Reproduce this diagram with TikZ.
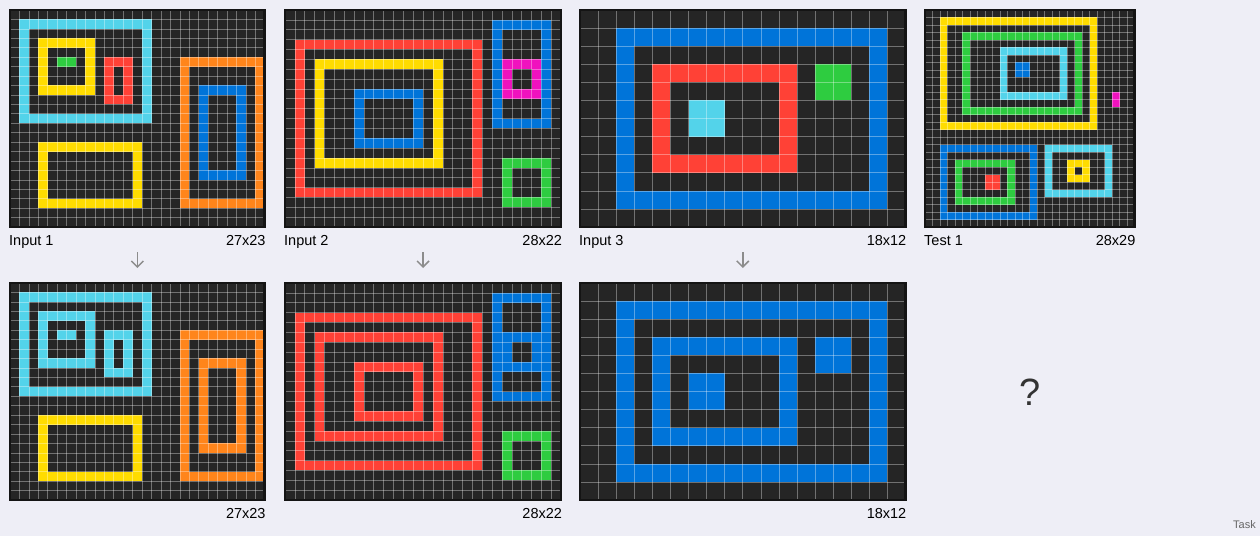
\documentclass[tikz,border=0pt]{standalone}
\usepackage{fontspec}
\setmainfont{Liberation Sans}
\usepackage{tikz}
\usetikzlibrary{arrows.meta,positioning,calc}
\definecolor{pagebg}{HTML}{EEEEF6}
\definecolor{cellbg}{HTML}{252525}
\definecolor{framec}{HTML}{141414}
\definecolor{arcblue}{HTML}{0074D9}
\definecolor{arcred}{HTML}{FF4136}
\definecolor{arcgreen}{HTML}{2ECC40}
\definecolor{arcyellow}{HTML}{FFDC00}
\definecolor{arccyan}{HTML}{53D3EA}
\definecolor{arcmagenta}{HTML}{F012BE}
\definecolor{arcorange}{HTML}{FF851B}
\definecolor{arrowgray}{HTML}{8C8C8C}
\definecolor{textgray}{HTML}{333333}

% hollow box and solid block, in cell units
\newcommand{\arcring}[5]{\fill[#1] (#2,#3) rectangle (#4+1,#5+1); \fill[cellbg] (#2+1,#3+1) rectangle (#4,#5);}
\newcommand{\arcblk}[5]{\fill[#1] (#2,#3) rectangle (#4+1,#5+1);}
% name, x, y, cell size, cols, rows, content
\newcommand{\arcpanel}[7]{%
  \begin{scope}[shift={(#2,#3)}, x=#4pt, y=-#4pt]
    \fill[cellbg] (0,0) rectangle (#5,#6);
    #7
    \pgfmathtruncatemacro{\lastc}{#5-1}
    \pgfmathtruncatemacro{\lastr}{#6-1}
    \foreach \i in {1,...,\lastc} \draw[gridline] (\i,0) -- (\i,#6);
    \foreach \j in {1,...,\lastr} \draw[gridline] (0,\j) -- (#5,\j);
    \draw[panelframe] (0,0) rectangle (#5,#6);
    \coordinate (#1-n) at (#5/2,0);
    \coordinate (#1-s) at (#5/2,#6);
    \coordinate (#1-sw) at (0,#6);
    \coordinate (#1-se) at (#5,#6);
  \end{scope}}

\begin{document}
\begin{tikzpicture}[x=1pt, y=-1pt,
  gridline/.style={white, opacity=0.35, line width=0.6pt},
  panelframe/.style={draw=framec, line width=2.6pt},
  lbl/.style={font=\fontsize{14.5}{17}\selectfont, inner sep=0pt},
  arr/.style={-{Straight Barb[length=6pt,width=12pt]}, draw=arrowgray, line width=1.5pt}
]
\fill[pagebg] (0,0) rectangle (1260,536);
\useasboundingbox (0,0) rectangle (1260,536);

% pair 1
\arcpanel{in1}{10}{10}{9.4348}{27}{23}{%
  \arcring{arccyan}{1}{1}{14}{11}
  \arcring{arcyellow}{3}{3}{8}{8}
  \arcblk{arcgreen}{5}{5}{6}{5}
  \arcring{arcred}{10}{5}{12}{9}
  \arcring{arcyellow}{3}{14}{13}{20}
  \arcring{arcorange}{18}{5}{26}{20}
  \arcring{arcblue}{20}{8}{24}{17}}
\arcpanel{out1}{10}{283}{9.4348}{27}{23}{%
  \arcring{arccyan}{1}{1}{14}{11}
  \arcring{arccyan}{3}{3}{8}{8}
  \arcblk{arccyan}{5}{5}{6}{5}
  \arcring{arccyan}{10}{5}{12}{9}
  \arcring{arcyellow}{3}{14}{13}{20}
  \arcring{arcorange}{18}{5}{26}{20}
  \arcring{arcorange}{20}{8}{24}{17}}

% pair 2
\arcpanel{in2}{285}{10}{9.8636}{28}{22}{%
  \arcring{arcred}{1}{3}{19}{18}
  \arcring{arcyellow}{3}{5}{15}{15}
  \arcring{arcblue}{7}{8}{13}{13}
  \arcring{arcblue}{21}{1}{26}{11}
  \arcring{arcmagenta}{22}{5}{25}{8}
  \arcring{arcgreen}{22}{15}{26}{19}}
\arcpanel{out2}{285}{283}{9.8636}{28}{22}{%
  \arcring{arcred}{1}{3}{19}{18}
  \arcring{arcred}{3}{5}{15}{15}
  \arcring{arcred}{7}{8}{13}{13}
  \arcring{arcblue}{21}{1}{26}{11}
  \arcring{arcblue}{22}{5}{25}{8}
  \arcring{arcgreen}{22}{15}{26}{19}}

% pair 3
\arcpanel{in3}{580}{10}{18.0833}{18}{12}{%
  \arcring{arcblue}{2}{1}{16}{10}
  \arcring{arcred}{4}{3}{11}{8}
  \arcblk{arccyan}{6}{5}{7}{6}
  \arcblk{arcgreen}{13}{3}{14}{4}}
\arcpanel{out3}{580}{283}{18.0833}{18}{12}{%
  \arcring{arcblue}{2}{1}{16}{10}
  \arcring{arcblue}{4}{3}{11}{8}
  \arcblk{arcblue}{6}{5}{7}{6}
  \arcblk{arcblue}{13}{3}{14}{4}}

% test
\arcpanel{test1}{925}{10}{7.4828}{28}{29}{%
  \arcring{arcyellow}{2}{1}{22}{15}
  \arcring{arcgreen}{5}{3}{20}{13}
  \arcring{arccyan}{10}{5}{18}{11}
  \arcblk{arcblue}{12}{7}{13}{8}
  \arcblk{arcmagenta}{25}{11}{25}{12}
  \arcring{arcblue}{2}{18}{14}{27}
  \arcring{arcgreen}{4}{20}{11}{25}
  \arcblk{arcred}{8}{22}{9}{23}
  \arcring{arccyan}{16}{18}{24}{24}
  \arcring{arcyellow}{19}{20}{21}{22}}

% labels
\node[lbl, anchor=base west] (in1name) at ([xshift=-1pt,yshift=-18.5pt]in1-sw) {Input 1};
\node[lbl, anchor=base east] (in1size) at ([xshift=1pt,yshift=-18.5pt]in1-se) {27x23};
\node[lbl, anchor=base east] (out1size) at ([xshift=1pt,yshift=-18.5pt]out1-se) {27x23};
\node[lbl, anchor=base west] (in2name) at ([xshift=-1pt,yshift=-18.5pt]in2-sw) {Input 2};
\node[lbl, anchor=base east] (in2size) at ([xshift=1pt,yshift=-18.5pt]in2-se) {28x22};
\node[lbl, anchor=base east] (out2size) at ([xshift=1pt,yshift=-18.5pt]out2-se) {28x22};
\node[lbl, anchor=base west] (in3name) at ([xshift=-1pt,yshift=-18.5pt]in3-sw) {Input 3};
\node[lbl, anchor=base east] (in3size) at ([xshift=1pt,yshift=-18.5pt]in3-se) {18x12};
\node[lbl, anchor=base east] (out3size) at ([xshift=1pt,yshift=-18.5pt]out3-se) {18x12};
\node[lbl, anchor=base west] (test1name) at ([xshift=-1pt,yshift=-18.5pt]test1-sw) {Test 1};
\node[lbl, anchor=base east] (test1size) at ([xshift=1pt,yshift=-18.5pt]test1-se) {28x29};

% arrows
\draw[arr] ([yshift=-25pt]in1-s) -- ([yshift=15pt]out1-n);
\draw[arr] ([yshift=-25pt]in2-s) -- ([yshift=15pt]out2-n);
\draw[arr] ([yshift=-25pt]in3-s) -- ([yshift=15pt]out3-n);

\node[font=\fontsize{38}{40}\selectfont, text=textgray, inner sep=0pt, anchor=base] (unknown) at (1030,405) {?};
\node[font=\fontsize{11}{13}\selectfont, text=black!60, inner sep=0pt, anchor=base east] (tasklab) at (1256,528.5) {Task};
\end{tikzpicture}
\end{document}
